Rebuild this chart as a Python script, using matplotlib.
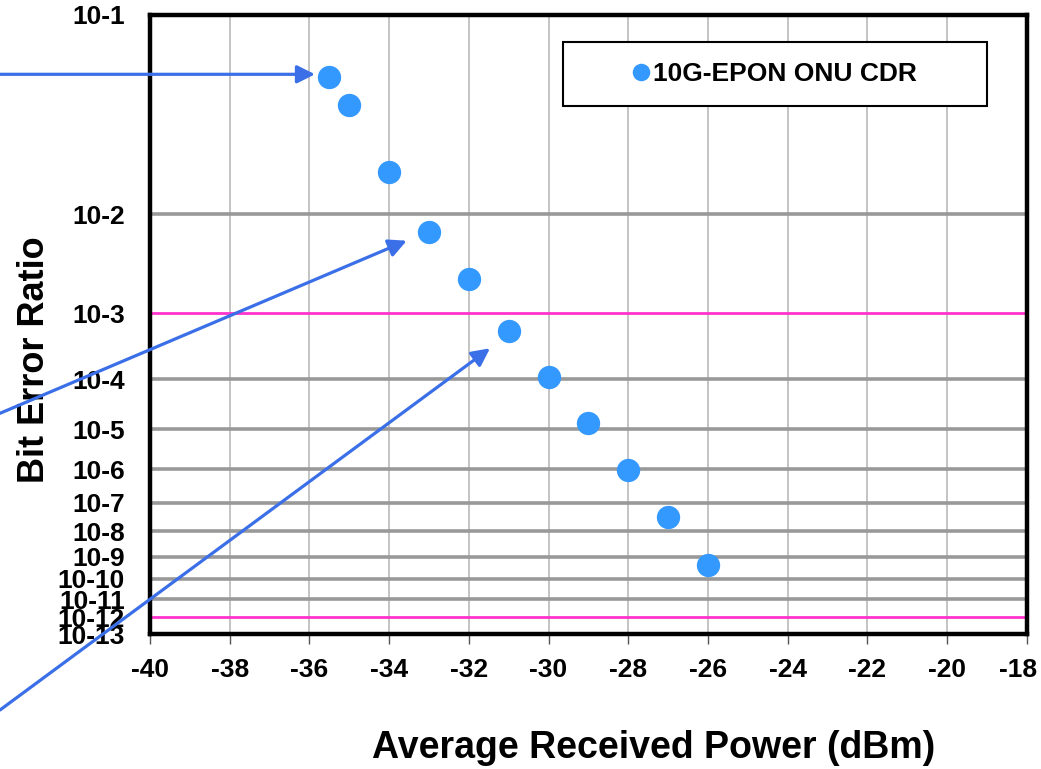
import numpy as np
import matplotlib.pyplot as plt
from matplotlib.patches import Rectangle, FancyArrowPatch
from matplotlib.transforms import ScaledTranslation

plt.rcParams['font.family'] = ['Liberation Sans', 'DejaVu Sans']
plt.rcParams['font.weight'] = 'bold'

# measured data
power_dbm = [-35.5, -35, -34, -33, -32, -31, -30, -29, -28, -27, -26]
ber = [6.1e-2, 4.6e-2, 2.0e-2, 7.2e-3, 2.5e-3, 5.7e-4, 1.1e-4, 1.4e-5, 9.5e-7, 3.2e-8, 4.2e-10]
series_name = '10G-EPON ONU CDR'

decades = list(range(1, 14))
tick_labels = [f'10-{n}' for n in decades]
limit_decades = [3, 12]
x_ticks = list(range(-40, -17, 2))


# BER axis: y = -ln(-log10(BER) - 0.4)
def ber_forward(b):
    b = np.clip(np.asarray(b, dtype=float), 1e-300, 0.39)
    return -np.log(-np.log10(b) - 0.4)


def ber_inverse(y):
    return 10.0 ** -(np.exp(-np.asarray(y, dtype=float)) + 0.4)


W, H = 1041, 769
fig = plt.figure(figsize=(W / 100, H / 100), dpi=100)
ax = fig.add_axes([150 / W, 1 - 634.3 / H, 876.7 / W, 619.8 / H])

ax.set_yscale('function', functions=(ber_forward, ber_inverse))
ax.set_xlim(-40, -18)
ax.set_ylim(1e-13, 1e-1)

# grid
for n in decades[1:-1]:
    if n in limit_decades:
        continue
    ax.axhline(10.0 ** -n, color='#999999', lw=2.6, zorder=1)
for n in limit_decades:
    ax.axhline(10.0 ** -n, color='#FF33CC', lw=2, zorder=1)
for x in x_ticks[1:-1]:
    ax.axvline(x, color='#BFBFBF', lw=1.3, zorder=0.5)

ax.plot(power_dbm, ber, 'o', color='#3399FF', markersize=16.8,
        markeredgewidth=0, label=series_name, zorder=3)

ax.set_xticks(x_ticks, [str(x) for x in x_ticks])
ax.set_yticks([10.0 ** -n for n in decades], tick_labels)
ax.minorticks_off()
ax.tick_params(axis='x', length=7, width=1, color='#555555', pad=10, labelsize=19)
ax.tick_params(axis='y', length=0, pad=18, labelsize=19)
for s in ax.spines.values():
    s.set_linewidth(3.2)
    s.set_color('black')

# last x label sits a bit left so it stays inside the picture
last = ax.get_xticklabels()[-1]
last.set_transform(last.get_transform() + ScaledTranslation(-6 / 72, 0, fig.dpi_scale_trans))

# legend box
ax.add_patch(Rectangle((563 / W, 1 - 106 / H), 424 / W, 64 / H,
                       transform=fig.transFigure, fill=True, facecolor='white',
                       edgecolor='black', lw=1.5, zorder=4))
leg = ax.legend(loc='center', bbox_to_anchor=((563 + 424 / 2) / W, 1 - 74 / H),
                bbox_transform=fig.transFigure, frameon=False, fontsize=19,
                handlelength=0.6, handletextpad=0.15, markerscale=0.75)
leg.set_zorder(5)

fig.text(654 / W, 1 - 748 / H, 'Average Received Power (dBm)', ha='center',
         va='center', fontsize=27, fontweight='bold')
fig.text(35 / W, 1 - 360 / H, 'Bit Error Ratio', ha='center', va='center',
         rotation=90, fontsize=26, fontweight='bold')

# callout arrows
arrows = [((0, 74.3), (315, 74.3)),
          ((0, 413.3), (406.7, 240.7)),
          ((0, 710), (490, 348.3))]
for (x0, y0), (x1, y1) in arrows:
    fig.add_artist(FancyArrowPatch((x0 / W, 1 - y0 / H), (x1 / W, 1 - y1 / H),
                                   transform=fig.transFigure, arrowstyle='-|>',
                                   mutation_scale=27, color='#3B6FE8', lw=2.3,
                                   shrinkA=0, shrinkB=0, zorder=10))

fig.savefig('out.png', dpi=100)
